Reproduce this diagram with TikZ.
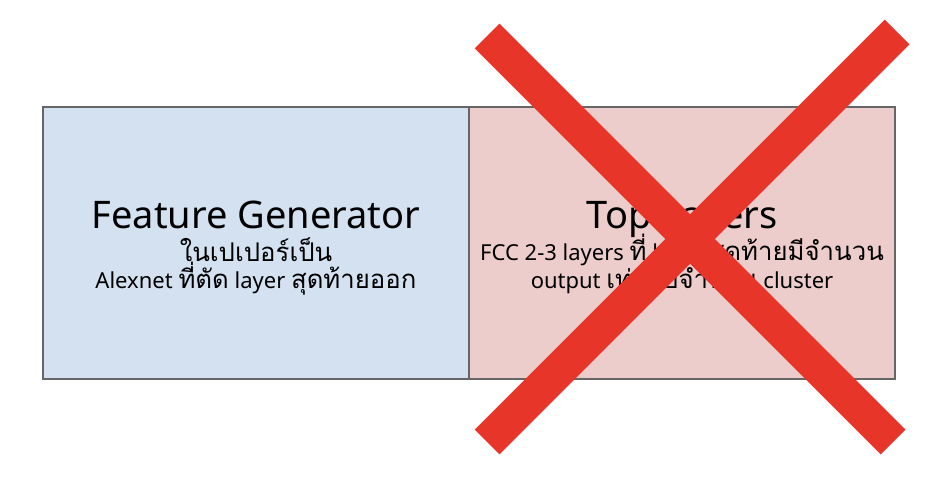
\documentclass[tikz,border=0pt]{standalone}
\usepackage{fontspec}
\setmainfont{Noto Sans}
\newfontfamily\thaifont[Script=Thai,Scale=1.17]{Loma}
\usepackage{tikz}
\definecolor{fgblue}{HTML}{D4E1F0}
\definecolor{topred}{HTML}{EDCDCC}
\definecolor{boxline}{HTML}{666666}
\definecolor{crossred}{HTML}{E8352A}
\newcommand{\titlesize}{\fontsize{38}{44}\selectfont}
\newcommand{\subsize}{\fontsize{22}{26}\selectfont}

\begin{document}
\begin{tikzpicture}[x=1pt,y=-1pt]
                %\draw[help lines] (0,0) grid[step=50] (940,478);
                \tikzset{blockbox/.style = {draw=boxline, line width=2pt, minimum width=426pt, minimum height=272pt, inner sep=0pt}}
                \tikzset{titletext/.style = {anchor=base, font=\titlesize, inner sep=0pt}}
                \tikzset{subtext/.style = {anchor=base, font=\subsize, inner sep=0pt}}
                \tikzset{crossline/.style = {draw=crossred, line width=35pt, line cap=butt}}
                \useasboundingbox (0,0) rectangle (940,478);
                \node[blockbox, fill=fgblue] (fg) at (256,243) {};
                \node[blockbox, fill=topred] (top) at (682,243) {};
                \node[titletext] (fgtitle) at (256,229) {Feature Generator};
                \node[subtext] (fgline1) at (256,262) {\thaifont ในเปเปอร์เป็น};
                \node[subtext] (fgline2) at (256,289) {Alexnet {\thaifont ที่ตัด} layer {\thaifont สุดท้ายออก}};
                \node[titletext] (toptitle) at (682,229) {Top Layers};
                \node[subtext] (topline1) at (682,261) {FCC 2-3 layers {\thaifont ที่} layer {\thaifont สุดท้ายมีจำนวน}};
                \node[subtext] (topline2) at (682,289) {output {\thaifont เท่ากับจำนวน} cluster};
                % cross over the top layers
                \coordinate (xa) at (487,36);
                \coordinate (xb) at (893,442);
                \coordinate (xc) at (897,32);
                \coordinate (xd) at (487,442);
                \draw[crossline] (xa) -- (xb);
                \draw[crossline] (xc) -- (xd);
        \end{tikzpicture}
\end{document}
